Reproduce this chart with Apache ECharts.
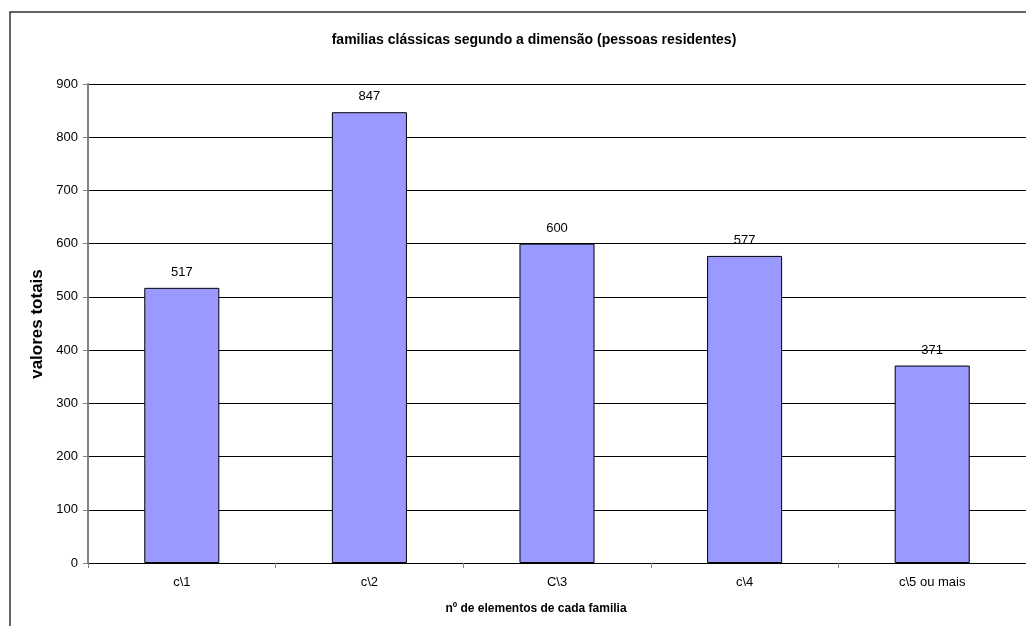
<!DOCTYPE html>
<html>
<head>
<meta charset="utf-8">
<script src="https://cdn.jsdelivr.net/npm/echarts@6/dist/echarts.min.js"></script>
<style>html,body{margin:0;padding:0;background:#fff}#c{width:1026px;height:626px}</style>
</head>
<body>
<div id="c"></div>
<script>
var categories = ['c\\1', 'c\\2', 'C\\3', 'c\\4', 'c\\5 ou mais'];
var values = [517, 847, 600, 577, 371];
var yTicks = [0, 100, 200, 300, 400, 500, 600, 700, 800, 900];

var chart = echarts.init(document.getElementById('c'));
var F = 'Liberation Sans, Arial, sans-serif';
chart.setOption({
  animation: false,
  backgroundColor: '#fff',
  graphic: [
    {type: 'rect', shape: {x: 10, y: 12, width: 1100, height: 700}, style: {fill: 'none', stroke: '#333', lineWidth: 1.5}, z: -1},
    {type: 'text', x: 534, y: 40, style: {text: 'familias clássicas segundo a dimensão (pessoas residentes)', font: 'bold 14px ' + F, fill: '#000', align: 'center', verticalAlign: 'middle'}},
    {type: 'text', x: 536, y: 609, style: {text: 'nº de elementos de cada familia', font: 'bold 12px ' + F, fill: '#000', align: 'center', verticalAlign: 'middle'}},
    {type: 'text', x: 37, y: 324, rotation: Math.PI / 2, style: {text: 'valores totais', font: 'bold 17px ' + F, fill: '#000', align: 'center', verticalAlign: 'middle'}}
  ],
  grid: {left: 88, top: 84, width: 940, height: 479, containLabel: false},
  xAxis: {
    type: 'category',
    data: categories,
    boundaryGap: true,
    axisLine: {lineStyle: {color: '#000', width: 1}},
    axisTick: {show: true, length: 5, inside: false, lineStyle: {color: '#808080'}},
    axisLabel: {color: '#000', fontSize: 13, fontFamily: F, margin: 13}
  },
  yAxis: {
    type: 'value',
    min: 0, max: 900, interval: 100,
    axisLine: {show: true, lineStyle: {color: '#808080', width: 2}},
    axisTick: {show: true, length: 5, lineStyle: {color: '#808080'}},
    axisLabel: {color: '#000', fontSize: 13, fontFamily: F, margin: 10,
      formatter: function (v) { return yTicks.indexOf(v) >= 0 ? String(v) : ''; }},
    splitLine: {show: true, lineStyle: {color: '#000', width: 1}}
  },
  series: [{
    type: 'bar',
    data: values,
    barWidth: '40%',
    itemStyle: {color: '#9999FF', borderColor: '#000', borderWidth: 1},
    label: {show: true, position: 'top', distance: 9, color: '#000', fontSize: 13, fontFamily: F}
  }]
});
</script>
</body>
</html>
